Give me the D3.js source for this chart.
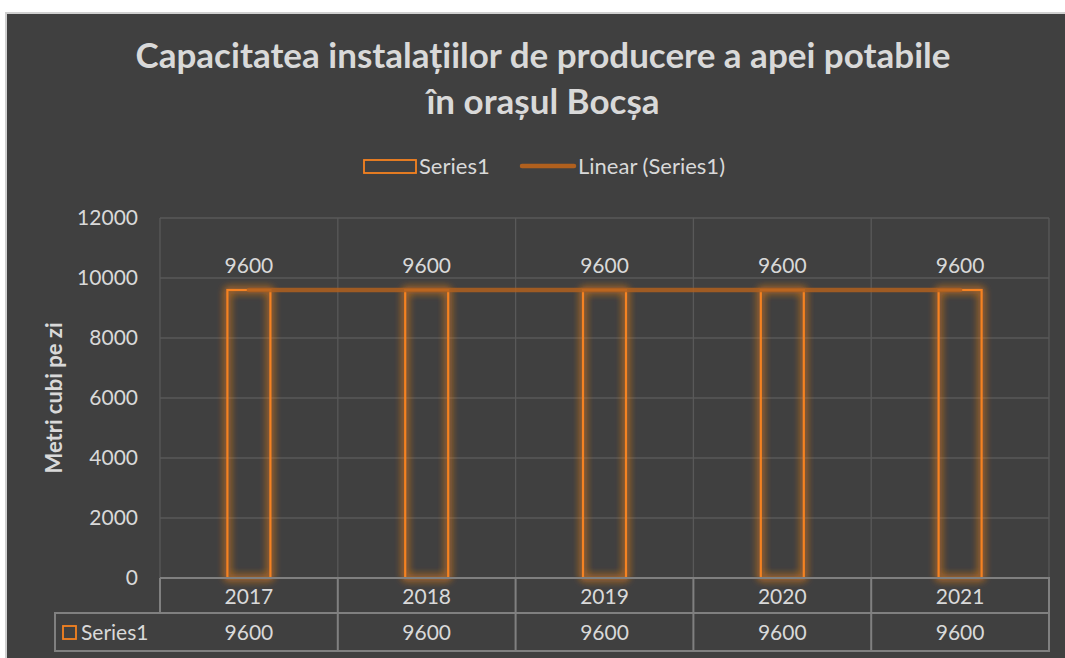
<!DOCTYPE html>
<html>
<head>
<meta charset="utf-8">
<script src="https://cdn.jsdelivr.net/npm/d3@7"></script>
<style>
  body { margin: 0; background: #fff; }
  svg text { font-family: Lato, "Open Sans", sans-serif; fill: #d9d9d9; }
</style>
</head>
<body>
<svg id="chart"></svg>
<script>
// chart data
const years = ["2017", "2018", "2019", "2020", "2021"];
const values = [9600, 9600, 9600, 9600, 9600];
const yTicks = [0, 2000, 4000, 6000, 8000, 10000, 12000];
const seriesName = "Series1";
const trendName = "Linear (Series1)";
const titleLines = ["Capacitatea instalațiilor de producere a apei potabile", "în orașul Bocșa"];
const yLabel = "Metri cubi pe zi";

const width = 1065, height = 658;
const margin = { top: 218, right: 16, bottom: 80, left: 160 };
const orange = "#f58220";
const fs = "21px";

const svg = d3.select("#chart").attr("width", width).attr("height", height);

// glow filter
const defs = svg.append("defs");
const glow = defs.append("filter").attr("id", "glow")
    .attr("x", "-50%").attr("y", "-50%").attr("width", "200%").attr("height", "200%");
glow.append("feGaussianBlur").attr("in", "SourceGraphic").attr("stdDeviation", 4).attr("result", "blur");
const merge = glow.append("feMerge");
merge.append("feMergeNode").attr("in", "blur");
merge.append("feMergeNode").attr("in", "blur");
merge.append("feMergeNode").attr("in", "SourceGraphic");

// panel
svg.append("rect")
    .attr("x", 6).attr("y", 13)
    .attr("width", width).attr("height", height)
    .attr("fill", "#404040")
    .attr("stroke", "#d0d0d0").attr("stroke-width", 2);

// title
svg.append("text")
    .attr("text-anchor", "middle")
    .attr("font-size", "35px")
    .attr("font-weight", "bold")
    .selectAll("tspan")
    .data(titleLines)
    .join("tspan")
    .attr("x", 543)
    .attr("y", (d, i) => 68 + i * 46)
    .text(d => d);

const x = d3.scaleBand()
    .domain(years)
    .range([margin.left, width - margin.right]);

const y = d3.scaleLinear()
    .domain([0, 12000])
    .range([578, margin.top]);

// gridlines
const grid = svg.append("g").attr("stroke", "#595959").attr("stroke-width", 1.3);
grid.selectAll("line.h")
    .data(yTicks.filter(d => d > 0))
    .join("line")
    .attr("class", "h")
    .attr("x1", margin.left).attr("x2", width - margin.right)
    .attr("y1", d => y(d)).attr("y2", d => y(d));
grid.selectAll("line.v")
    .data(years.concat(["end"]))
    .join("line")
    .attr("class", "v")
    .attr("x1", d => d === "end" ? x.range()[1] : x(d))
    .attr("x2", d => d === "end" ? x.range()[1] : x(d))
    .attr("y1", y(12000)).attr("y2", y(0));

// y axis
const yAxis = svg.append("g")
    .attr("transform", `translate(${margin.left - 22},0)`)
    .call(d3.axisLeft(y).tickValues(yTicks).tickFormat(d3.format("d")).tickSize(0).tickPadding(0));
yAxis.select(".domain").remove();
yAxis.selectAll("text").attr("font-size", fs).attr("fill", "#d9d9d9")
    .attr("font-family", "Lato, sans-serif");

svg.append("text")
    .attr("transform", `translate(62,${(y(0) + y(12000)) / 2}) rotate(-90)`)
    .attr("text-anchor", "middle")
    .attr("font-size", "22px")
    .attr("font-weight", "bold")
    .text(yLabel);

// bars
const barW = 43;
svg.append("g")
    .attr("filter", "url(#glow)")
    .selectAll("rect")
    .data(values)
    .join("rect")
    .attr("x", (d, i) => x(years[i]) + x.bandwidth() / 2 - barW / 2)
    .attr("y", d => y(d))
    .attr("width", barW)
    .attr("height", d => y(0) - y(d))
    .attr("fill", "none")
    .attr("stroke", orange)
    .attr("stroke-width", 2.2);

// linear trendline (least squares fit)
const n = values.length;
const xs = d3.range(1, n + 1);
const mx = d3.mean(xs), my = d3.mean(values);
const slope = d3.sum(xs, (xi, i) => (xi - mx) * (values[i] - my)) / d3.sum(xs, xi => (xi - mx) ** 2);
const icpt = my - slope * mx;
const cx = i => x(years[i]) + x.bandwidth() / 2;
svg.append("line")
    .attr("x1", cx(0)).attr("x2", cx(n - 1))
    .attr("y1", y(icpt + slope * 1)).attr("y2", y(icpt + slope * n))
    .attr("stroke", "#b0601e")
    .attr("stroke-opacity", 0.85)
    .attr("stroke-width", 4.5)
    .attr("stroke-linecap", "round");

// data labels
svg.append("g")
    .selectAll("text")
    .data(values)
    .join("text")
    .attr("x", (d, i) => cx(i))
    .attr("y", d => y(d) - 17)
    .attr("text-anchor", "middle")
    .attr("font-size", fs)
    .text(d => d);

// data table
const table = svg.append("g");
const rowTop = 578, rowMid = 613, rowBot = 651, keyLeft = 55;
const tableStroke = "#808080";
const right = x.range()[1];
table.append("path")
    .attr("d", `M${margin.left},${rowTop}H${right}V${rowBot}H${keyLeft}V${rowMid}H${right}` +
        `M${keyLeft},${rowMid}H${margin.left}V${rowTop}` +
        years.slice(1).map(d => `M${x(d)},${rowTop}V${rowBot}`).join(""))
    .attr("fill", "none")
    .attr("stroke", tableStroke)
    .attr("stroke-width", 2);
table.selectAll("text.cat")
    .data(years)
    .join("text")
    .attr("class", "cat")
    .attr("x", d => x(d) + x.bandwidth() / 2)
    .attr("y", (rowTop + rowMid) / 2 + 8)
    .attr("text-anchor", "middle")
    .attr("font-size", fs)
    .text(d => d);
table.selectAll("text.val")
    .data(values)
    .join("text")
    .attr("class", "val")
    .attr("x", (d, i) => cx(i))
    .attr("y", (rowMid + rowBot) / 2 + 8)
    .attr("text-anchor", "middle")
    .attr("font-size", fs)
    .text(d => d);
table.append("rect")
    .attr("x", 63).attr("y", 626).attr("width", 13).attr("height", 13)
    .attr("fill", "none").attr("stroke", orange).attr("stroke-width", 1.8);
table.append("text")
    .attr("x", 81).attr("y", 640)
    .attr("font-size", fs)
    .text(seriesName);

// legend
const legend = svg.append("g");
legend.append("rect")
    .attr("x", 364).attr("y", 160).attr("width", 52).attr("height", 13)
    .attr("fill", "none").attr("stroke", orange).attr("stroke-width", 1.8);
legend.append("text")
    .attr("x", 419).attr("y", 174)
    .attr("font-size", "22px")
    .text(seriesName);
legend.append("line")
    .attr("x1", 522).attr("x2", 574).attr("y1", 166).attr("y2", 166)
    .attr("stroke", "#b0601e").attr("stroke-width", 4.5)
    .attr("stroke-linecap", "round");
legend.append("text")
    .attr("x", 578).attr("y", 174)
    .attr("font-size", "22px")
    .text(trendName);
</script>
</body>
</html>
